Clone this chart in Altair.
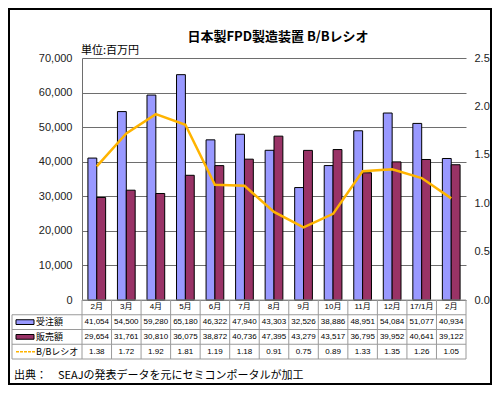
import altair as alt
import pandas as pd

# ---- data ----
months = ["2月", "3月", "4月", "5月", "6月", "7月", "8月", "9月", "10月", "11月", "12月", "17/1月", "2月"]
orders = [41054, 54500, 59280, 65180, 46322, 47940, 43303, 32526, 38886, 48951, 54084, 51077, 40934]
sales = [29654, 31761, 30810, 36075, 38872, 40736, 47395, 43279, 43517, 36795, 39952, 40641, 39122]
bb_ratio = [1.38, 1.72, 1.92, 1.81, 1.19, 1.18, 0.91, 0.75, 0.89, 1.33, 1.35, 1.26, 1.05]
series_names = ["受注額", "販売額"]
line_name = "B/Bレシオ"
left_ticks = [0, 10000, 20000, 30000, 40000, 50000, 60000, 70000]
right_ticks = [0.0, 0.5, 1.0, 1.5, 2.0, 2.5]
title_text = "日本製FPD製造装置 B/Bレシオ"
unit_text = "単位:百万円"
source_text = "出典：　SEAJの発表データを元にセミコンポータルが加工"

bar_colors = ["#9999FF", "#993366"]
line_color = "#FFB400"
grid_color = "#6e6e6e"
table_color = "#9a9a9a"
num_font = "Liberation Sans, Noto Sans CJK JP"
jp_font = "Noto Sans CJK JP"

PAD_L, PAD_T, PAD_R, PAD_B = 74, 50, 26, 85
W, H = 384, 242
ROW_H = 59
COL_L = -70
keys = list(range(len(months)))

bars_df = pd.DataFrame(
    [{"key": k, "series": series_names[0], "value": orders[k]} for k in keys]
    + [{"key": k, "series": series_names[1], "value": sales[k]} for k in keys]
)
line_df = pd.DataFrame({"key": keys, "bb": bb_ratio})

table_rows = []
for k in keys:
    table_rows.append({"key": k, "row": 0.5, "label": months[k]})
    table_rows.append({"key": k, "row": 1.5, "label": f"{orders[k]:,}"})
    table_rows.append({"key": k, "row": 2.5, "label": f"{sales[k]:,}"})
    table_rows.append({"key": k, "row": 3.5, "label": f"{bb_ratio[k]:.2f}"})
table_df = pd.DataFrame(table_rows)

x_scale = alt.Scale(paddingInner=0, paddingOuter=0)
row_scale = alt.Scale(domain=[0, 4], range=[H, H + ROW_H], nice=False, zero=False)

def xk(**kw):
    return alt.X("key:O", scale=x_scale, axis=None, **kw)

bars = alt.Chart(bars_df).mark_bar(stroke="black", strokeWidth=1).encode(
    x=xk(),
    xOffset=alt.XOffset("series:N", sort=series_names,
                        scale=alt.Scale(paddingInner=0, paddingOuter=0.667)),
    y=alt.Y("value:Q", scale=alt.Scale(domain=[0, 70000], nice=False),
            axis=alt.Axis(orient="left", values=left_ticks, format=",.0f", title=None,
                          grid=True, gridColor=grid_color, gridWidth=1,
                          domain=True, domainColor=grid_color, ticks=False,
                          labelPadding=10, labelFontSize=11, labelFont=num_font,
                          labelColor="#222")),
    color=alt.Color("series:N", scale=alt.Scale(domain=series_names, range=bar_colors), legend=None),
)

line = alt.Chart(line_df).mark_line(color=line_color, strokeWidth=2.5).encode(
    x=xk(),
    y=alt.Y("bb:Q", scale=alt.Scale(domain=[0, 2.5], nice=False),
            axis=alt.Axis(orient="right", values=right_ticks, format=".1f", title=None,
                          grid=False, domain=False, ticks=False, labelPadding=8,
                          labelFontSize=11, labelFont=num_font, labelColor="#222")),
)

# table grid
top_rule = alt.Chart(pd.DataFrame({"r": [0]})).mark_rule(color=table_color).encode(
    x=alt.value(0), x2=alt.value(W),
    y=alt.Y("r:Q", scale=row_scale, axis=None),
)
h_rules = alt.Chart(pd.DataFrame({"r": [1, 2, 3, 4]})).mark_rule(color=table_color).encode(
    x=alt.value(COL_L), x2=alt.value(W),
    y=alt.Y("r:Q", scale=row_scale, axis=None),
)
v_rules = alt.Chart(pd.DataFrame({"key": keys, "y0": [0] * len(keys), "y1": [4] * len(keys)})).mark_rule(
    color=table_color).encode(
    x=xk(bandPosition=0),
    y=alt.Y("y0:Q", scale=row_scale, axis=None), y2="y1:Q",
)
v_end = alt.Chart(pd.DataFrame({"key": [keys[-1]], "y0": [0], "y1": [4]})).mark_rule(color=table_color).encode(
    x=xk(bandPosition=1),
    y=alt.Y("y0:Q", scale=row_scale, axis=None), y2="y1:Q",
)
v_left = alt.Chart(pd.DataFrame({"y0": [1], "y1": [4]})).mark_rule(color=table_color).encode(
    x=alt.value(COL_L),
    y=alt.Y("y0:Q", scale=row_scale, axis=None), y2="y1:Q",
)

table_text = alt.Chart(table_df).mark_text(fontSize=8, font=num_font, color="black").encode(
    x=xk(),
    y=alt.Y("row:Q", scale=row_scale, axis=None),
    text="label:N",
)

# legend column
SW_L, SW_R, TXT_X = COL_L + 4, COL_L + 22, COL_L + 24
sw1 = alt.Chart(pd.DataFrame({"y0": [1.5 - 0.16], "y1": [1.5 + 0.16]})).mark_rect(
    color=bar_colors[0], stroke="black", strokeWidth=1).encode(
    x=alt.value(SW_L), x2=alt.value(SW_R),
    y=alt.Y("y0:Q", scale=row_scale, axis=None), y2="y1:Q",
)
sw2 = alt.Chart(pd.DataFrame({"y0": [2.5 - 0.16], "y1": [2.5 + 0.16]})).mark_rect(
    color=bar_colors[1], stroke="black", strokeWidth=1).encode(
    x=alt.value(SW_L), x2=alt.value(SW_R),
    y=alt.Y("y0:Q", scale=row_scale, axis=None), y2="y1:Q",
)
sw3 = alt.Chart(pd.DataFrame({"r": [3.5]})).mark_rule(
    color=line_color, strokeWidth=1.5, strokeDash=[3, 1]).encode(
    x=alt.value(SW_L), x2=alt.value(SW_R + 1),
    y=alt.Y("r:Q", scale=row_scale, axis=None),
)
legend_text = alt.Chart(pd.DataFrame({"r": [1.5, 2.5, 3.5],
                                      "label": series_names + [line_name]})).mark_text(
    align="left", fontSize=9, font=jp_font, color="black").encode(
    x=alt.value(TXT_X),
    y=alt.Y("r:Q", scale=row_scale, axis=None),
    text="label:N",
)

one = pd.DataFrame({"a": [0]})
title = alt.Chart(one).mark_text(text=title_text, fontSize=13, fontWeight="bold", font=jp_font,
                                 align="center", baseline="alphabetic", color="black").encode(
    x=alt.value(W / 2 + 4), y=alt.value(-17))
unit = alt.Chart(one).mark_text(text=unit_text, fontSize=11, font=jp_font, align="left",
                                baseline="middle", color="black").encode(
    x=alt.value(-1), y=alt.value(-7))
source = alt.Chart(one).mark_text(text=source_text, fontSize=11, font=jp_font, align="left",
                                  baseline="middle", color="black").encode(
    x=alt.value(COL_L + 2), y=alt.value(H + 76))
border = alt.Chart(one).mark_rect(fillOpacity=0, stroke="black", strokeWidth=2).encode(
    x=alt.value(-PAD_L + 1), x2=alt.value(W + PAD_R - 1),
    y=alt.value(-PAD_T + 1), y2=alt.value(H + PAD_B - 1))

chart = alt.layer(
    bars, line, top_rule, h_rules, v_rules, v_end, v_left, table_text,
    sw1, sw2, sw3, legend_text, title, unit, source, border,
).resolve_scale(y="independent").properties(
    width=W, height=H,
    autosize=alt.AutoSizeParams(type="none"),
    padding={"left": PAD_L, "top": PAD_T, "right": PAD_R, "bottom": PAD_B},
    background="white",
).configure_view(stroke=None)

chart.save("out.html", embed_options={"renderer": "svg", "actions": False})
